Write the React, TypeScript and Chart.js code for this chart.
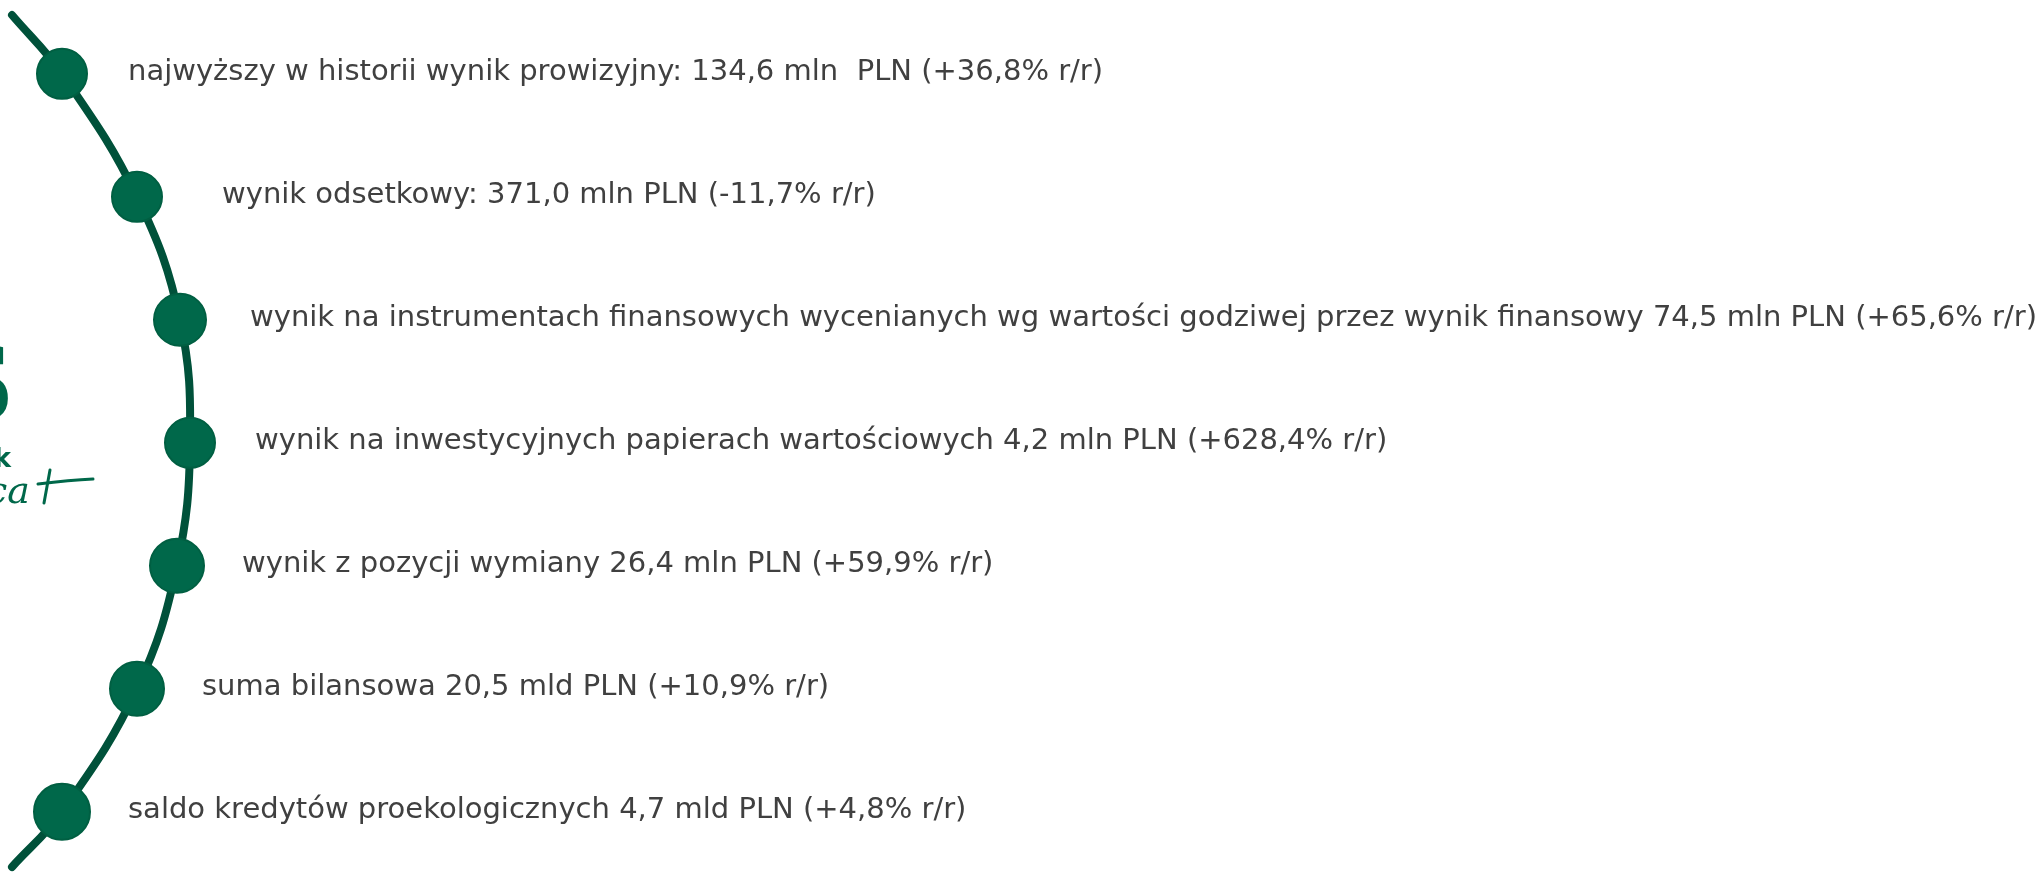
import React, { useEffect, useRef } from "react";
import { Chart, registerables } from "chart.js";

Chart.register(...registerables);

// Highlights (one per dot on the arc), top to bottom
const highlights: string[] = [
  "najwyższy w historii wynik prowizyjny: 134,6 mln  PLN (+36,8% r/r)",
  "wynik odsetkowy: 371,0 mln PLN (-11,7% r/r)",
  "wynik na instrumentach finansowych wycenianych wg wartości godziwej przez wynik finansowy 74,5 mln PLN (+65,6% r/r)",
  "wynik na inwestycyjnych papierach wartościowych 4,2 mln PLN (+628,4% r/r)",
  "wynik z pozycji wymiany 26,4 mln PLN (+59,9% r/r)",
  "suma bilansowa 20,5 mld PLN (+10,9% r/r)",
  "saldo kredytów proekologicznych 4,7 mld PLN (+4,8% r/r)",
];

// Dots: row index (y) and horizontal position on the arc (x)
const dotRow: number[] = [0, 1, 2, 3, 4, 5, 6];
const dotArcX: number[] = [62, 137, 180, 190, 177, 137, 62];

// Arc polyline (including the two open ends)
const arcRow: number[] = [-0.478, 0, 1, 2, 3, 4, 5, 6, 6.449];
const arcX: number[] = [12, 62, 137, 180, 190, 177, 137, 62, 12];

// layout / style constants
const W = 2044;
const H = 872;
const dotRadius = [25, 25, 26, 25, 27, 27, 28];
const labelGap = [66, 85, 70, 65, 65, 65, 66];
const TEXT_COLOR = "#404040";
const LINE_COLOR = "#00513a";
const DOT_COLOR = "#00684a";
const DOT_BORDER = "#005f42";
const FONT_SIZE = 29;
const FONT_FAMILY = "'DejaVu Sans', 'Open Sans', sans-serif";
const WIDEST_TARGET = 1787; // width of the longest line in the reference

const labelsPlugin = {
  id: "arcLabels",
  beforeDatasetsDraw(chart: any) {
    const ctx = chart.ctx as CanvasRenderingContext2D;
    // partial logo at the far left
    ctx.save();
    ctx.fillStyle = "#00684a";
    ctx.textAlign = "right";
    ctx.textBaseline = "alphabetic";
    ctx.font = "bold 104px 'DejaVu Serif', serif";
    ctx.fillText("S", 14, 421);
    ctx.font = "bold 26px 'DejaVu Sans', sans-serif";
    ctx.fillText("k", 11, 467);
    ctx.textAlign = "left";
    ctx.font = "italic 38px 'DejaVu Serif', serif";
    ctx.fillText("ca", -14, 503);
    ctx.strokeStyle = "#00684a";
    ctx.lineWidth = 3;
    ctx.lineCap = "round";
    ctx.beginPath();
    ctx.moveTo(38, 484);
    ctx.quadraticCurveTo(70, 480, 93, 479);
    ctx.stroke();
    ctx.beginPath();
    ctx.moveTo(50, 470);
    ctx.lineTo(44, 503);
    ctx.stroke();
    ctx.restore();
  },
  afterDatasetsDraw(chart: any) {
    const ctx = chart.ctx as CanvasRenderingContext2D;
    const xs = chart.scales.x;
    const ys = chart.scales.y;
    ctx.save();
    ctx.fillStyle = TEXT_COLOR;
    ctx.font = `400 ${FONT_SIZE}px ${FONT_FAMILY}`;
    ctx.textAlign = "left";
    ctx.textBaseline = "middle";
    // letter spacing so the longest line spans the same width as the reference
    let widest = highlights[0];
    highlights.forEach((t) => {
      if (t.length > widest.length) widest = t;
    });
    (ctx as any).letterSpacing = "0px";
    const w0 = ctx.measureText(widest).width;
    const ls = (WIDEST_TARGET - w0) / (widest.length - 1);
    (ctx as any).letterSpacing = `${ls.toFixed(3)}px`;
    highlights.forEach((text, i) => {
      const x = xs.getPixelForValue(dotArcX[i]) + labelGap[i];
      const y = ys.getPixelForValue(dotRow[i]);
      ctx.fillText(text, x, y - 1);
    });
    ctx.restore();
  },
};

export default function App() {
  const canvasRef = useRef<HTMLCanvasElement | null>(null);

  useEffect(() => {
    document.body.style.margin = "0";
    const canvas = canvasRef.current;
    if (!canvas) return;
    const chart = new Chart(canvas, {
      type: "scatter",
      data: {
        datasets: [
          {
            label: "arc",
            data: arcRow.map((r, i) => ({ x: arcX[i], y: r })),
            showLine: true,
            borderColor: LINE_COLOR,
            borderWidth: 8,
            borderCapStyle: "round",
            tension: 0.4,
            pointRadius: 0,
            pointHoverRadius: 0,
            clip: false as any,
            order: 2,
          },
          {
            label: "dots",
            data: dotRow.map((r, i) => ({ x: dotArcX[i], y: r })),
            showLine: false,
            pointRadius: dotRadius,
            pointHoverRadius: dotRadius,
            backgroundColor: DOT_COLOR,
            borderColor: DOT_BORDER,
            borderWidth: 2,
            clip: false as any,
            order: 1,
          },
        ],
      },
      options: {
        responsive: false,
        maintainAspectRatio: false,
        animation: false,
        events: [],
        layout: { padding: 0, autoPadding: false },
        plugins: {
          legend: { display: false },
          tooltip: { enabled: false },
          title: { display: false },
        },
        scales: {
          x: { type: "linear", min: 0, max: W, display: false },
          y: { type: "linear", min: -0.6, max: 6.49, reverse: true, display: false },
        },
      },
      plugins: [labelsPlugin],
    });
    return () => chart.destroy();
  }, []);

  return (
    <div style={{ width: W, height: H, background: "#ffffff" }}>
      <canvas ref={canvasRef} width={W} height={H} style={{ width: W, height: H, display: "block" }} />
    </div>
  );
}
